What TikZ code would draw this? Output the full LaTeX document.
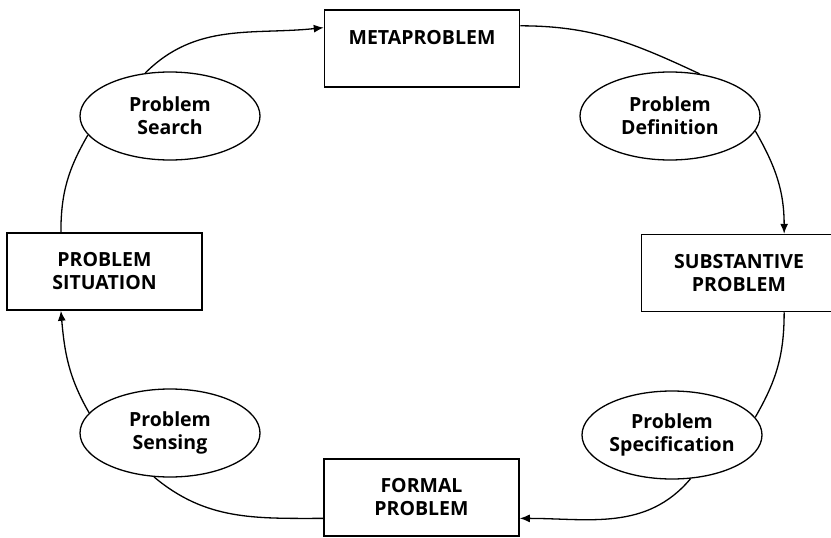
\documentclass[tikz,border=0pt]{standalone}
\usepackage{fontspec}
\setsansfont{Open Sans}
\usepackage{tikz}
\usetikzlibrary{shapes.geometric,arrows.meta}

\begin{document}
\begin{tikzpicture}[x=1pt,y=-1pt,
    stage/.style={draw,line width=1.5pt,minimum width=195pt,minimum height=77pt,align=center,
      font=\sffamily\bfseries\fontsize{19.5}{23}\selectfont},
    activity/.style={draw,ellipse,line width=1.3pt,minimum width=180pt,minimum height=88pt,inner sep=0pt,align=center,
      font=\sffamily\bfseries\fontsize{19.5}{23}\selectfont},
    flow/.style={line width=1.3pt},
    tip/.style={-{Latex[length=10pt,width=8pt]}}]
  \useasboundingbox (0,0) rectangle (831,538);
  \clip (0,0) rectangle (831,538);
  \node [stage] (meta) at (422,48.5) {METAPROBLEM\\\mbox{}};
  \node [stage] (situation) at (104.5,271.5) {PROBLEM\\SITUATION};
  \node [stage] (substantive) at (739,273) {SUBSTANTIVE\\PROBLEM};
  \node [stage] (formal) at (421.5,497.5) {FORMAL\\PROBLEM};
  \node [activity] (search) at (170,116) {Problem\\Search};
  \node [activity] (definition) at (670,116) {Problem\\Definition};
  \node [activity] (sensing) at (170,433) {Problem\\Sensing};
  \node [activity] (specification) at (672,435) {Problem\\Specification};
  \draw [flow] (situation.138) to [out=90,in=-120] (search.193);
  \draw [flow,tip] (search.120) to [out=45,in=186] (meta.168);
  \draw [flow] (meta.13) to [out=0,in=155] (definition.55);
  \draw [flow,tip] (definition.-10) to [out=-60,in=90] (substantive.41);
  \draw [flow] (substantive.-41) to [out=-90,in=60] (specification.12);
  \draw [flow,tip] (specification.-67) to [out=-130,in=0] (formal.-12);
  \draw [flow] (formal.192) to [out=180,in=-40] (sensing.-110);
  \draw [flow,tip] (sensing.166) to [out=120,in=-85] (situation.-138);
\end{tikzpicture}
\end{document}
